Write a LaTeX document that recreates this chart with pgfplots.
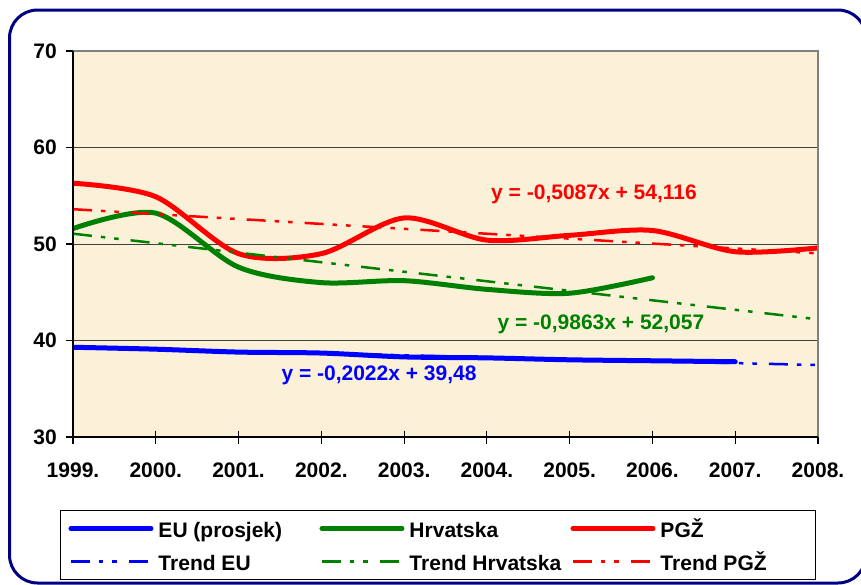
\documentclass[border=0pt]{standalone}
\usepackage{pgfplots}
\pgfplotsset{compat=1.18}
\usepackage{fontspec}
\setmainfont{Liberation Sans}
\definecolor{bgc}{RGB}{251,241,217}
\definecolor{framec}{RGB}{0,0,128}
\definecolor{eu}{RGB}{0,0,255}
\definecolor{hr}{RGB}{0,128,0}
\definecolor{pg}{RGB}{255,0,0}
\begin{document}
\begin{tikzpicture}[font=\fontsize{21bp}{24bp}\selectfont\bfseries]
\useasboundingbox (0,0) rectangle (861bp,-585bp);
\fill[white] (0,0) rectangle (861bp,-585bp);
\draw[framec, line width=3bp, rounded corners=28bp] (9.5bp,-10bp) rectangle (866bp,-583bp);
\begin{axis}[
  at={(73bp,-437bp)}, anchor=south west, scale only axis,
  width=745bp, height=386bp,
  xmin=1, xmax=10, ymin=30, ymax=70,
  axis line style={draw=none},
  axis background/.style={fill=bgc},
  xtick={1,2,3,4,5,6,7,8,9,10},
  xticklabels={1999.,2000.,2001.,2002.,2003.,2004.,2005.,2006.,2007.,2008.},
  ytick={30,40,50,60,70},
  yticklabels={30,40,50,60,70},
  ytick pos=left,
  ymajorgrids, major grid style={black!75, line width=1bp},
  xtick style={draw=none},
  ytick style={black, line width=1.2bp},
  tick align=outside, major tick length=7bp,
  yticklabel style={anchor=east, inner sep=0pt, xshift=-9bp},
  xticklabel style={anchor=base, inner sep=0pt, yshift=-33bp},
  legend columns=3,
  legend cell align=left,
  legend style={at={(-0.01745,-0.18912)}, anchor=north west, draw=black, line width=1bp, fill=white,
    inner xsep=8bp, inner ysep=7bp, row sep=11bp,
    /tikz/every odd column/.style={column sep=5bp},
    /tikz/every even column/.style={column sep=6bp},
    nodes={inner sep=0pt, text height=20bp, text depth=2bp}},
  legend image code/.code={\draw[#1] (0bp,0bp) -- (80bp,0bp);},
  trend/.style={line width=2.5bp, line cap=butt, dash pattern=on 19bp off 9bp on 4.5bp off 9bp on 4.5bp off 12bp},
  dataline/.style={line width=5bp, line cap=round, smooth},
]
\addplot[eu, dataline] coordinates {(1,39.3)(2,39.1)(3,38.8)(4,38.7)(5,38.3)(6,38.2)(7,38.0)(8,37.9)(9,37.8)};
\addlegendentry{\makebox[155bp][l]{EU (prosjek)}}
\addplot[hr, dataline] coordinates {(1,51.6)(2,53.2)(3,47.6)(4,46.0)(5,46.2)(6,45.3)(7,44.9)(8,46.5)};
\addlegendentry{\makebox[155bp][l]{Hrvatska}}
\addplot[pg, dataline] coordinates {(1,56.3)(2,54.9)(3,49.0)(4,49.0)(5,52.7)(6,50.4)(7,50.9)(8,51.4)(9,49.2)(10,49.6)};
\addlegendentry{\makebox[147bp][l]{PGŽ}}
\addplot[eu, trend] coordinates {(1,39.2778)(10,37.458)};
\addlegendentry{\makebox[155bp][l]{Trend EU}}
\addplot[hr, trend] coordinates {(1,51.0707)(10,42.194)};
\addlegendentry{\makebox[155bp][l]{Trend Hrvatska}}
\addplot[pg, trend] coordinates {(1,53.6073)(10,49.029)};
\addlegendentry{\makebox[147bp][l]{Trend PGŽ}}
\node[pg, anchor=base] at (axis cs:7.294,54.63) {y = -0,5087x + 54,116};
\node[hr, anchor=base] at (axis cs:7.378,41.09) {y = -0,9863x + 52,057};
\node[eu, anchor=base] at (axis cs:4.697,35.84) {y = -0,2022x + 39,48};
\end{axis}
\foreach \i in {0,...,9} {\draw[black, line width=1.2bp] ({73bp+\i*82.778bp},-430.5bp) -- ++(0,-13bp);}
\draw[gray, line width=1.5bp] (73bp,-51bp) -- (818bp,-51bp) -- (818bp,-437bp);
\draw[black, line width=1.5bp] (73bp,-51bp) -- (73bp,-437bp) -- (818bp,-437bp);
\end{tikzpicture}
\end{document}
